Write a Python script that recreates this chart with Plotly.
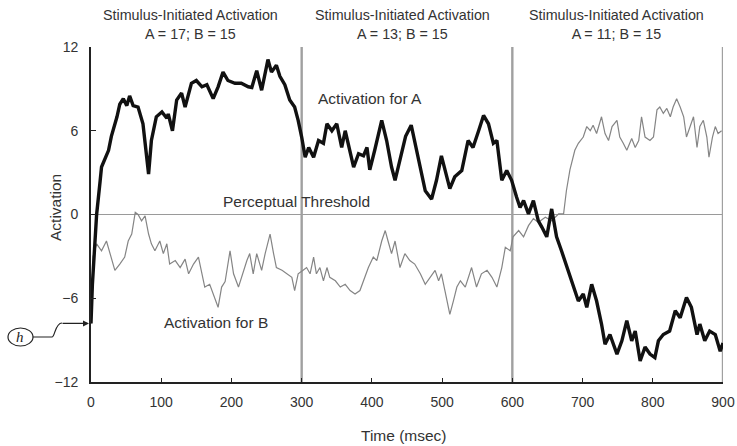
"""Activation of A and B over time, with stimulus-initiated phases."""

import plotly.graph_objects as go

# time (msec) and activation values
time_a = [0, 2, 5, 8, 13, 15, 25, 29, 37, 41, 46, 51, 55, 60, 67, 74, 82, 86, 93,
          101, 108, 110, 116, 122, 129, 134, 143, 150, 158, 165, 174, 181, 188, 195,
          205, 214, 224, 229, 236, 243, 252, 257, 264, 269, 276, 283, 290, 295, 300,
          305, 310, 317, 324, 331, 336, 343, 350, 357, 362, 369, 374, 381, 388, 393,
          397, 404, 414, 421, 428, 433, 440, 448, 456, 466, 476, 485, 492, 499, 506,
          511, 518, 528, 537, 544, 552, 559, 566, 573, 578, 585, 592, 599, 606, 611,
          616, 623, 630, 637, 642, 649, 656, 663, 670, 678, 684, 694, 701, 706, 713,
          720, 727, 732, 739, 749, 756, 763, 770, 775, 782, 789, 796, 803, 808, 815,
          824, 832, 839, 848, 855, 863, 867, 874, 881, 889, 896, 900]
act_a = [-7.8, -5.0, -2.5, 0.0, 2.4, 3.4, 4.6, 5.6, 7.0, 7.9, 8.3, 7.8, 8.5, 7.8, 7.7,
         6.5, 2.9, 5.3, 7.0, 7.35, 6.9, 7.2, 6.0, 8.2, 8.7, 7.7, 9.4, 9.6, 9.15, 9.3,
         8.3, 9.15, 10.2, 9.6, 9.4, 9.4, 9.15, 9.1, 10.3, 8.9, 11.1, 10.2, 10.7, 9.9,
         9.3, 8.2, 7.7, 6.75, 5.55, 4.1, 4.8, 4.1, 5.3, 5.1, 6.5, 6.0, 6.5, 4.8, 6.0,
         4.6, 3.4, 4.35, 4.2, 4.8, 3.2, 4.6, 6.75, 5.3, 3.4, 2.45, 3.9, 5.6, 6.4, 4.1,
         1.7, 1.1, 2.45, 4.2, 2.9, 1.85, 2.7, 3.15, 5.3, 4.8, 6.0, 7.1, 6.5, 5.1, 5.3,
         2.45, 3.15, 2.45, 1.25, 0.5, 1.0, 0.05, 1.0, -0.45, -0.9, -1.6, 0.4, -1.6,
         -2.6, -3.8, -4.75, -6.2, -5.7, -6.65, -5.0, -6.2, -7.85, -9.3, -8.6, -10.0,
         -9.05, -7.6, -9.05, -8.35, -10.5, -9.5, -10.0, -10.25, -9.05, -8.6, -8.35,
         -6.9, -7.4, -5.95, -6.65, -8.6, -7.85, -9.05, -8.35, -8.6, -9.8, -9.2]

time_b = [0, 3, 8, 15, 22, 27, 34, 41, 48, 53, 58, 63, 67, 72, 77, 82, 86, 91, 98,
          103, 108, 112, 120, 127, 134, 139, 146, 153, 158, 162, 169, 174, 181, 186,
          191, 198, 203, 210, 217, 222, 226, 231, 236, 243, 248, 255, 260, 264, 272,
          279, 286, 290, 295, 302, 307, 312, 317, 321, 326, 331, 336, 340, 348, 355,
          362, 369, 376, 383, 388, 395, 402, 407, 414, 419, 423, 428, 433, 440, 447,
          454, 461, 469, 476, 483, 490, 495, 499, 504, 511, 516, 521, 526, 533, 542,
          549, 556, 564, 571, 578, 585, 590, 597, 601, 609, 616, 623, 630, 637, 647,
          656, 666, 673, 677, 682, 689, 694, 701, 706, 711, 715, 720, 727, 732, 737,
          742, 749, 753, 758, 763, 770, 775, 780, 784, 789, 796, 801, 806, 810, 815,
          820, 825, 829, 834, 839, 844, 848, 853, 858, 863, 867, 872, 877, 880, 885,
          889, 893, 898]
act_b = [-7.8, -3.0, -2.1, -2.6, -1.9, -2.8, -4.0, -3.55, -3.05, -1.9, -1.4, 0.15, 0.0,
         -0.45, -0.1, -1.4, -2.1, -2.6, -1.9, -2.8, -2.1, -3.55, -3.3, -3.8, -3.2,
         -4.25, -3.55, -3.05, -4.25, -5.2, -5.0, -5.7, -6.65, -5.2, -4.8, -2.6, -4.25,
         -5.2, -4.0, -3.3, -2.8, -4.25, -2.8, -4.0, -2.8, -1.4, -2.8, -3.8, -4.0,
         -4.25, -4.5, -5.45, -4.25, -4.0, -3.8, -4.25, -3.05, -4.25, -3.8, -4.75, -3.8,
         -4.5, -4.75, -5.2, -5.0, -5.45, -5.7, -5.45, -4.75, -3.8, -3.05, -3.3, -1.9,
         -1.15, -1.9, -2.8, -1.9, -3.8, -2.8, -3.3, -3.55, -4.25, -5.0, -4.5, -4.0,
         -4.75, -4.25, -5.45, -7.15, -6.2, -5.2, -4.75, -5.2, -3.8, -5.2, -4.25, -4.0,
         -4.5, -5.2, -3.8, -2.35, -2.6, -1.6, -1.15, -1.6, -0.8, -0.3, -0.55, -0.2,
         -0.45, 0.05, 0.05, 1.7, 3.2, 4.6, 5.1, 5.55, 6.3, 6.0, 6.4, 5.8, 7.0, 5.8,
         5.3, 6.3, 6.75, 5.55, 5.1, 4.6, 5.45, 4.8, 5.3, 7.0, 5.55, 5.3, 5.55, 7.5,
         7.7, 7.25, 7.6, 7.0, 7.7, 8.3, 7.7, 7.0, 5.55, 6.3, 7.0, 4.8, 6.3, 6.75, 5.55,
         4.1, 5.55, 6.3, 5.8, 6.0]

phase_ends = [300, 600, 900]
phase_centers = [142, 443, 748]
phase_labels = ["Stimulus-Initiated Activation<br>A = 17; B = 15",
                "Stimulus-Initiated Activation<br>A = 13; B = 15",
                "Stimulus-Initiated Activation<br>A = 11; B = 15"]
x_ticks = [0, 100, 200, 300, 400, 500, 600, 700, 800, 900]
y_ticks = [-12, -6, 0, 6, 12]
h_level = -7.8

FONT = "Liberation Sans, Arial, sans-serif"
TEXT = "#333333"

# plot area in pixels, used for the decorations outside the axes
L, R, T, B = 91, 723, 47, 382


def px_to_paper(px, py):
    return (px - L) / (R - L), (B - py) / (B - T)


fig = go.Figure()

fig.add_trace(go.Scatter(x=time_b, y=act_b, mode="lines",
                         line=dict(color="#858585", width=1.2), showlegend=False))
fig.add_trace(go.Scatter(x=time_a, y=act_a, mode="lines",
                         line=dict(color="#111111", width=3.4), showlegend=False))

# perceptual threshold and phase boundaries
fig.add_shape(type="line", x0=0, x1=900, y0=0, y1=0, xref="x", yref="y",
              line=dict(color="#9a9a9a", width=1), layer="below")
for xe in phase_ends:
    fig.add_shape(type="line", x0=xe, x1=xe, y0=-12, y1=12, xref="x", yref="y",
                  line=dict(color="#a0a0a0", width=2.4), layer="below")

for xc, lab in zip(phase_centers, phase_labels):
    fig.add_annotation(x=xc, y=px_to_paper(0, 24)[1], xref="x", yref="paper", text=lab,
                       showarrow=False, xanchor="center", yanchor="middle",
                       font=dict(family=FONT, size=14.3, color=TEXT))

fig.add_annotation(x=397, y=8.33, text="Activation for A", showarrow=False,
                   xanchor="center", yanchor="middle",
                   font=dict(family=FONT, size=15.5, color=TEXT))
fig.add_annotation(x=293, y=0.9, text="Perceptual Threshold", showarrow=False,
                   xanchor="center", yanchor="middle",
                   font=dict(family=FONT, size=15.5, color=TEXT))
fig.add_annotation(x=178, y=-7.74, text="Activation for B", showarrow=False,
                   xanchor="center", yanchor="middle",
                   font=dict(family=FONT, size=15.5, color=TEXT))

# axis titles
tx, ty = px_to_paper(404, 435)
fig.add_annotation(x=tx, y=ty, xref="paper", yref="paper", text="Time (msec)",
                   showarrow=False, xanchor="center", yanchor="middle",
                   font=dict(family=FONT, size=15.5, color=TEXT))
ax_, ay_ = px_to_paper(55, 208)
fig.add_annotation(x=ax_, y=ay_, xref="paper", yref="paper", text="Activation",
                   textangle=-90, showarrow=False, xanchor="center", yanchor="middle",
                   font=dict(family=FONT, size=15.5, color=TEXT))

# the "h" marker with its curved arrow pointing at the starting level
cx0, cy0 = px_to_paper(8, 346)
cx1, cy1 = px_to_paper(33, 328)
fig.add_shape(type="circle", xref="paper", yref="paper", x0=cx0, x1=cx1, y0=cy0, y1=cy1,
              line=dict(color="#222222", width=1.2))
fig.add_annotation(x=(cx0 + cx1) / 2, y=(cy0 + cy1) / 2, xref="paper", yref="paper",
                   text="<i>h</i>", showarrow=False, xanchor="center", yanchor="middle",
                   font=dict(family="Liberation Serif, Times New Roman, serif",
                             size=15, color="#222222"))
p1 = px_to_paper(33, 337)
p2 = px_to_paper(52, 337)
p3 = px_to_paper(55, 330)
p4 = px_to_paper(58, 323)
p5 = px_to_paper(62, 323)
fig.add_shape(type="path", xref="paper", yref="paper",
              path=(f"M {p1[0]},{p1[1]} L {p2[0]},{p2[1]} "
                    f"C {p3[0]},{p2[1]} {p3[0]},{p4[1]} {p5[0]},{p5[1]}"),
              line=dict(color="#222222", width=1.2))
fig.add_annotation(x=0, y=h_level, xref="x", yref="y", ax=-30, ay=0,
                   axref="pixel", ayref="pixel", text="", showarrow=True,
                   arrowhead=2, arrowsize=1, arrowwidth=1.2, arrowcolor="#222222",
                   standoff=2)

fig.update_layout(
    width=737, height=446,
    margin=dict(l=L, r=737 - R, t=T, b=446 - B),
    paper_bgcolor="white", plot_bgcolor="white",
    font=dict(family=FONT, size=14, color=TEXT),
    xaxis=dict(range=[0, 900], tickvals=x_ticks, ticks="inside", ticklen=4,
               tickcolor="#222222", showline=True, linecolor="#222222", linewidth=1.8,
               showgrid=False, zeroline=False, tickfont=dict(size=14, color=TEXT),
               ticklabelstandoff=6, automargin=False),
    yaxis=dict(range=[-12, 12], tickvals=y_ticks, ticks="inside", ticklen=5,
               tickcolor="#222222", showline=True, linecolor="#222222", linewidth=1.8,
               showgrid=False, zeroline=False, tickfont=dict(size=14, color=TEXT),
               ticklabelstandoff=8, automargin=False),
)

# drop the page's default body margin so the figure sits at the window's corner
fig.write_html("out.html", config={"displayModeBar": False},
               post_script="document.body.style.margin = '0';")
